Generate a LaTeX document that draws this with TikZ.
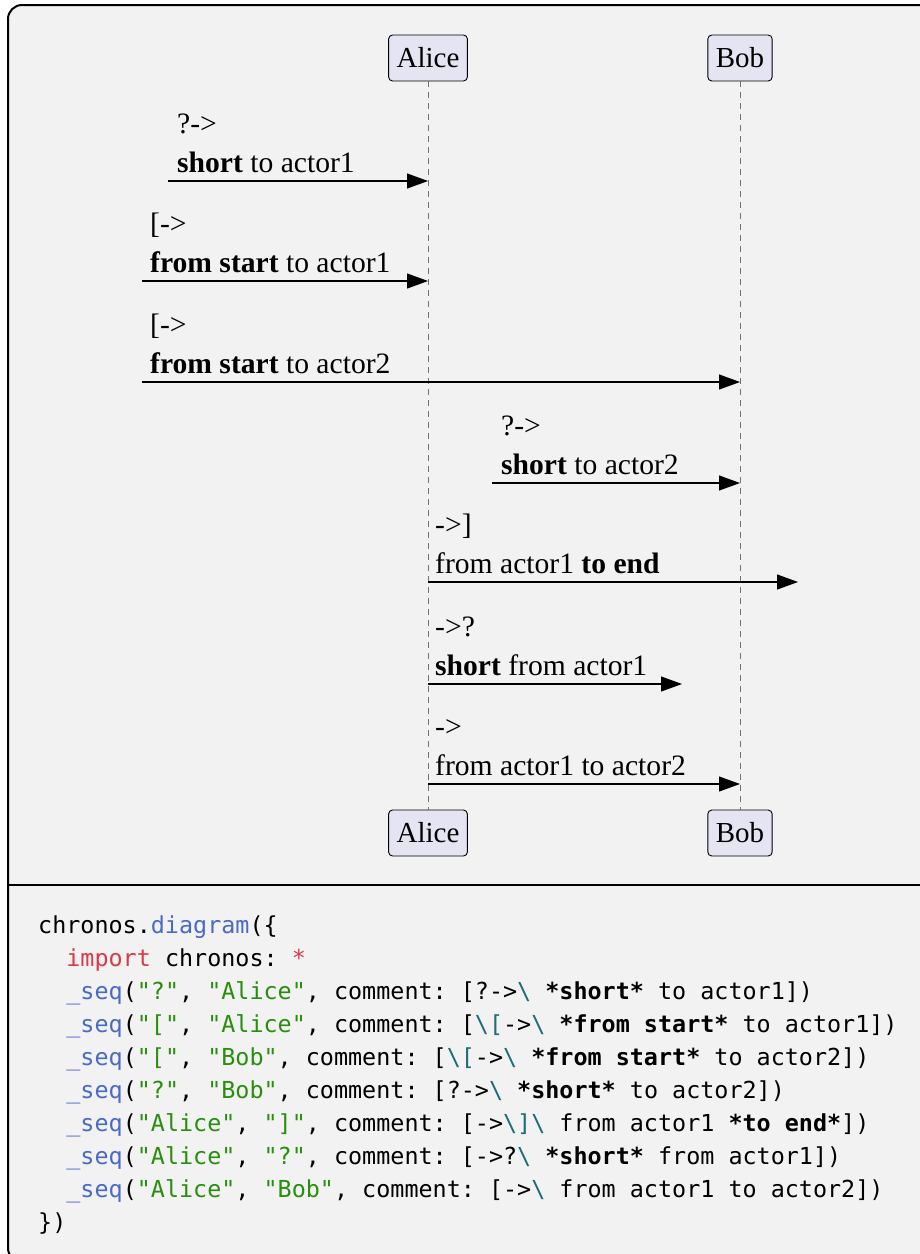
\documentclass[tikz,border=0pt]{standalone}
\usepackage{fontspec}
\setmainfont{Liberation Serif}
\newfontfamily\codefont{DejaVu Sans Mono}
\usetikzlibrary{arrows.meta}
\definecolor{bg}{HTML}{F2F2F2}
\definecolor{actorfill}{HTML}{E4E4F2}
\definecolor{fnblue}{HTML}{4B69C6}
\definecolor{kwred}{HTML}{D73A49}
\definecolor{strgreen}{HTML}{298E0D}
\definecolor{escteal}{HTML}{1D6C76}
\newcommand\cfn[1]{\textcolor{fnblue}{#1}}
\newcommand\ckw[1]{\textcolor{kwred}{#1}}
\newcommand\cstr[1]{\textcolor{strgreen}{#1}}
\newcommand\cesc[1]{\textcolor{escteal}{#1}}
\frenchspacing
\begin{document}
\begin{tikzpicture}[x=1pt,y=-1pt,
  actor/.style={draw=black, line width=0.9pt, fill=actorfill, rounded corners=4pt,
    inner xsep=8pt, inner ysep=0pt, minimum height=46pt, font=\fontsize{29}{34}\selectfont},
  lifeline/.style={draw=black!55, line width=0.9pt, dash pattern=on 6pt off 5pt},
  msg/.style={draw=black, line width=1.1pt, -{Triangle[length=21pt,width=15pt]}},
  lbl/.style={anchor=base west, inner sep=0pt, font=\fontsize{29.6}{34}\selectfont},
  codeline/.style={anchor=base west, inner sep=0pt, font=\codefont\fontsize{23.4}{28}\selectfont\frenchspacing},
  frame/.style={line width=2pt, draw=black, fill=bg, rounded corners=14pt}]
\useasboundingbox (0,0) rectangle (920,1254);
\begin{scope}
\clip (0,0) rectangle (920,1254);
\draw[frame] (8,5) rectangle (934,1262);
\end{scope}
\coordinate (sepL) at (8,885);
\coordinate (sepR) at (920,885);
\draw[line width=2pt] (sepL) -- (sepR);

% actors
\node[actor] (a1) at (428,58) {Alice};
\node[actor] (b1) at (740,58) {Bob};
\node[actor] (a2) at (428,833) {Alice};
\node[actor] (b2) at (740,833) {Bob};
\draw[lifeline] (a1.south) -- (a2.north);
\draw[lifeline] (b1.south) -- (b2.north);

% message 1
\coordinate (s1) at (168,181);
\draw[msg] (s1) -- (s1 -| a1);
\node[lbl] (m1a) at (177,133) {?->};
\node[lbl] (m1b) at (177,172) {\textbf{short} to actor1};
% message 2
\coordinate (s2) at (142,281);
\draw[msg] (s2) -- (s2 -| a1);
\node[lbl] (m2a) at (150,233) {[->};
\node[lbl] (m2b) at (150,272) {\textbf{from start} to actor1};
% message 3
\coordinate (s3) at (142,382);
\draw[msg] (s3) -- (s3 -| b1);
\node[lbl] (m3a) at (150,334) {[->};
\node[lbl] (m3b) at (150,373) {\textbf{from start} to actor2};
% message 4
\coordinate (s4) at (492,483);
\draw[msg] (s4) -- (s4 -| b1);
\node[lbl] (m4a) at (501,435) {?->};
\node[lbl] (m4b) at (501,474) {\textbf{short} to actor2};
% message 5
\coordinate (e5) at (798,582);
\draw[msg] (e5 -| a1) -- (e5);
\node[lbl] (m5a) at (435,534) {->]};
\node[lbl] (m5b) at (435,573) {from actor1 \textbf{to end}};
% message 6
\coordinate (e6) at (682,684);
\draw[msg] (e6 -| a1) -- (e6);
\node[lbl] (m6a) at (435,636) {->?};
\node[lbl] (m6b) at (435,675) {\textbf{short} from actor1};
% message 7
\coordinate (y7) at (0,784);
\draw[msg] (y7 -| a1) -- (y7 -| b1);
\node[lbl] (m7a) at (435,736) {->};
\node[lbl] (m7b) at (435,775) {from actor1 to actor2};

% code
\node[codeline] (c1) at (38,933) {chronos.\cfn{diagram}(\{};
\node[codeline] (c2) at (66.2,966) {\ckw{import} chronos: \ckw{*}};
\node[codeline] (c3) at (66.2,999) {\cfn{\_seq}(\cstr{"?"}, \cstr{"Alice"}, comment: [?->\cesc{\textbackslash} \textbf{*short*} to actor1])};
\node[codeline] (c4) at (66.2,1032) {\cfn{\_seq}(\cstr{"["}, \cstr{"Alice"}, comment: [\cesc{\textbackslash[}->\cesc{\textbackslash} \textbf{*from start*} to actor1])};
\node[codeline] (c5) at (66.2,1065) {\cfn{\_seq}(\cstr{"["}, \cstr{"Bob"}, comment: [\cesc{\textbackslash[}->\cesc{\textbackslash} \textbf{*from start*} to actor2])};
\node[codeline] (c6) at (66.2,1098) {\cfn{\_seq}(\cstr{"?"}, \cstr{"Bob"}, comment: [?->\cesc{\textbackslash} \textbf{*short*} to actor2])};
\node[codeline] (c7) at (66.2,1131) {\cfn{\_seq}(\cstr{"Alice"}, \cstr{"]"}, comment: [->\cesc{\textbackslash]}\cesc{\textbackslash} from actor1 \textbf{*to end*}])};
\node[codeline] (c8) at (66.2,1164) {\cfn{\_seq}(\cstr{"Alice"}, \cstr{"?"}, comment: [->?\cesc{\textbackslash} \textbf{*short*} from actor1])};
\node[codeline] (c9) at (66.2,1197) {\cfn{\_seq}(\cstr{"Alice"}, \cstr{"Bob"}, comment: [->\cesc{\textbackslash} from actor1 to actor2])};
\node[codeline] (c10) at (38,1230) {\})};
\end{tikzpicture}
\end{document}
